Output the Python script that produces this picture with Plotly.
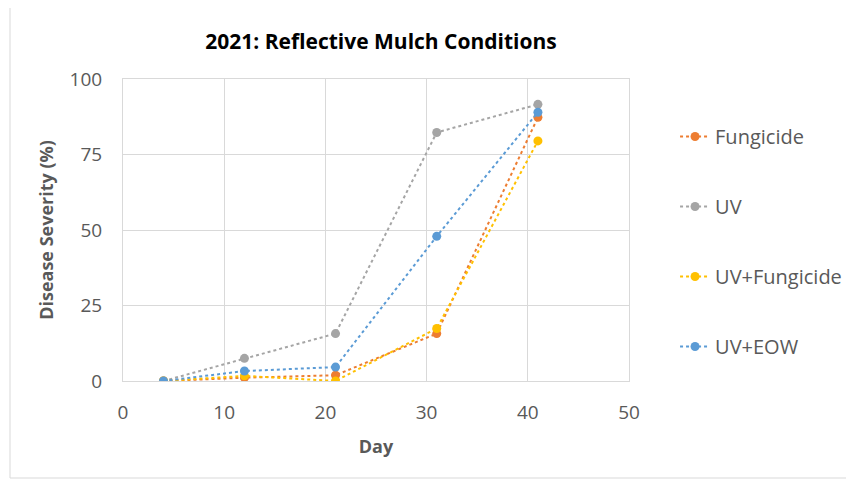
import plotly.graph_objects as go

days = [4, 12, 21, 31, 41]
fungicide = [0.0, 1.1, 1.9, 15.7, 87.3]
uv = [0.0, 7.5, 15.7, 82.3, 91.6]
uv_fungicide = [0.0, 1.7, 0.0, 17.4, 79.5]
uv_eow = [0.0, 3.3, 4.6, 47.9, 89.0]

series_names = ["Fungicide", "UV", "UV+Fungicide", "UV+EOW"]
series_values = [fungicide, uv, uv_fungicide, uv_eow]
series_colors = ["#ED7D31", "#A5A5A5", "#FFC000", "#5B9BD5"]

x_ticks = [0, 10, 20, 30, 40, 50]
y_ticks = [0, 25, 50, 75, 100]

fig = go.Figure()
for name, vals, col in zip(series_names, series_values, series_colors):
    fig.add_trace(go.Scatter(
        x=days, y=vals, name=name, legendgroup=name,
        mode="lines+markers",
        line=dict(color=col, width=2, dash="dot"),
        marker=dict(color=col, size=9),
    ))

font_family = "Open Sans"
tick_col = "#595959"

fig.update_layout(
    width=854, height=479,
    paper_bgcolor="white", plot_bgcolor="white",
    margin=dict(l=115, r=233, t=71, b=106),
    title=dict(text="<b>2021: Reflective Mulch Conditions</b>", x=373 / 854, xanchor="center",
               y=1 - 34 / 479, yanchor="middle",
               font=dict(family=font_family, size=21, color="#000000")),
    legend=dict(x=1.091, xanchor="left", y=0.874, yanchor="top",
                font=dict(family=font_family, size=20, color=tick_col),
                tracegroupgap=41, bgcolor="rgba(0,0,0,0)"),
    xaxis=dict(range=[0, 50], tickvals=x_ticks, showgrid=True, gridcolor="#D9D9D9", gridwidth=1,
               zeroline=False, showline=True, linecolor="#D9D9D9", mirror=True,
               ticks="", tickfont=dict(family=font_family, size=19, color=tick_col), ticklabelstandoff=14,
               title=dict(text="<b>Day</b>", font=dict(family=font_family, size=18, color=tick_col), standoff=16)),
    yaxis=dict(range=[0, 100], tickvals=y_ticks, showgrid=True, gridcolor="#D9D9D9", gridwidth=1,
               zeroline=False, showline=True, linecolor="#D9D9D9", mirror=True,
               ticks="", tickfont=dict(family=font_family, size=19, color=tick_col), ticklabelstandoff=16,
               title=dict(text="<b>Disease Severity (%)</b>", font=dict(family=font_family, size=18, color=tick_col), standoff=11)),
    showlegend=True,
)

fig.add_shape(type="rect", xref="paper", yref="paper",
              x0=(2 - 115) / 506, x1=(880 - 115) / 506,
              y0=(373 - 470) / 302, y1=(373 + 3) / 302,
              line=dict(color="#D9D9D9", width=1), fillcolor="rgba(0,0,0,0)", layer="below")

fig.write_html("out.html")
